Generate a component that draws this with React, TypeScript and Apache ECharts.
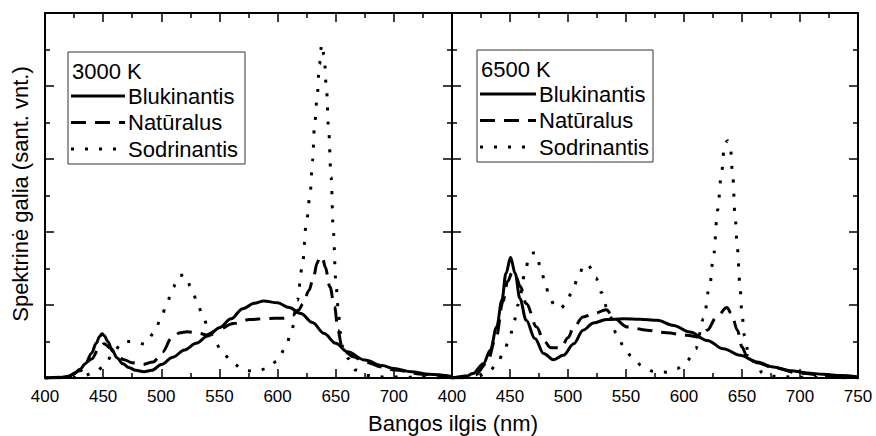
import React, { useEffect, useRef } from "react";
import * as echarts from "echarts";

const FONT = '"Liberation Sans", Arial, Helvetica, sans-serif';

// x tick labels / axis ranges
const xMin = 400;
const xMax = 750;
const xStep = 50;
const yMin = 0;
const yMax = 10;
const yStep = 2;

const panelTitles = ["3000 K", "6500 K"];
const seriesNames = ["Blukinantis", "Natūralus", "Sodrinantis"];

// ---- 3000 K ----
const blu3000Wl = [400, 410, 415, 420, 425, 430, 435, 440, 444, 447, 449, 451, 454, 458, 462, 467, 472, 478, 485, 492, 500, 510, 520, 530, 540, 550, 560, 570, 580, 588, 600, 610, 620, 630, 640, 650, 660, 675, 690, 700, 715, 730, 750];
const blu3000Val = [0, 0.01, 0.02, 0.05, 0.12, 0.24, 0.4, 0.68, 0.95, 1.14, 1.21, 1.16, 1.0, 0.74, 0.55, 0.39, 0.29, 0.21, 0.17, 0.21, 0.37, 0.57, 0.77, 0.95, 1.15, 1.38, 1.62, 1.9, 2.05, 2.11, 2.06, 1.93, 1.77, 1.52, 1.22, 0.95, 0.72, 0.49, 0.34, 0.26, 0.17, 0.1, 0.04];

const nat3000Wl = [400, 415, 420, 430, 440, 446, 451, 456, 462, 468, 475, 484, 493, 501, 509, 516, 522, 533, 539, 548, 562, 576, 591, 605, 613, 618, 622, 627, 631, 634, 636.5, 639, 641, 645, 649, 652, 655, 659, 665, 675, 690, 700, 725, 750];
const nat3000Val = [0, 0.02, 0.05, 0.2, 0.52, 0.78, 0.94, 0.82, 0.62, 0.5, 0.42, 0.37, 0.44, 0.71, 1.1, 1.24, 1.27, 1.22, 1.18, 1.31, 1.49, 1.6, 1.63, 1.64, 1.72, 1.86, 2.04, 2.4, 2.78, 3.15, 3.33, 3.25, 3.04, 2.5, 1.95, 1.31, 0.9, 0.7, 0.58, 0.44, 0.3, 0.22, 0.1, 0.03];

const sod3000Wl = [400, 425, 433, 444, 452, 459, 467, 476, 486, 494, 500, 505, 510, 515, 520, 526, 531, 536, 541, 546, 553, 562, 571, 581, 591, 600, 607, 612, 617, 621, 625, 628, 630, 632, 634, 636, 638, 640, 642, 644, 646, 648, 650, 652, 654, 656, 661, 667, 677, 690, 750];
const sod3000Val = [0, 0.01, 0.06, 0.17, 0.39, 0.72, 1.0, 1.0, 0.93, 1.24, 1.66, 2.07, 2.48, 2.8, 2.83, 2.47, 2.06, 1.65, 1.33, 0.99, 0.67, 0.39, 0.21, 0.18, 0.26, 0.47, 0.85, 1.29, 2.13, 3.0, 4.3, 5.05, 5.95, 7.0, 7.7, 8.6, 9.15, 8.85, 7.95, 6.75, 5.5, 4.0, 2.7, 1.95, 1.25, 0.85, 0.53, 0.22, 0.07, 0.03, 0];

// ---- 6500 K ----
const blu6500Wl = [400, 410, 418, 427, 433, 438.5, 443, 446.5, 450.5, 454.5, 458.5, 464, 471.5, 479, 487.5, 496, 505, 513, 522, 533, 548, 562, 577, 591, 605, 620, 634, 648.5, 663, 677, 692, 706, 720, 735, 750];
const blu6500Val = [0.01, 0.01, 0.12, 0.39, 0.76, 1.4, 2.13, 2.86, 3.3, 2.86, 2.18, 1.58, 1.08, 0.67, 0.5, 0.62, 0.94, 1.31, 1.51, 1.6, 1.62, 1.61, 1.58, 1.44, 1.26, 1.03, 0.8, 0.62, 0.44, 0.3, 0.2, 0.14, 0.1, 0.07, 0.03];

const nat6500Wl = [400, 420, 430, 438, 444, 448, 452, 455, 459, 464, 473, 479, 485, 494, 500, 505, 513, 522, 533, 540, 551, 568, 585, 602, 614, 620, 628, 637, 641, 646, 650, 654, 663, 677, 700, 725, 750];
const nat6500Val = [0, 0.08, 0.4, 1.1, 2.1, 2.65, 2.9, 2.78, 2.5, 2.04, 1.4, 1.03, 0.83, 0.83, 1.1, 1.4, 1.67, 1.76, 1.87, 1.62, 1.4, 1.31, 1.24, 1.17, 1.12, 1.31, 1.67, 1.93, 1.76, 1.31, 0.85, 0.62, 0.42, 0.28, 0.13, 0.06, 0.02];

const sod6500Wl = [400, 420, 431, 439, 445, 450, 453.5, 457, 463, 466, 469, 472, 476.5, 480, 484, 489, 493, 498, 504, 509, 514, 517, 524, 529, 533.5, 542, 548, 555, 564, 574, 585, 594, 602.5, 610, 617, 622, 625.5, 629, 632, 635, 637.5, 640, 642, 644, 646, 648, 650, 652, 655.5, 661, 668.5, 677, 700, 750];
const sod6500Val = [0, 0.02, 0.15, 0.38, 0.76, 1.14, 1.56, 2.01, 2.86, 3.27, 3.42, 3.44, 3.04, 2.63, 2.22, 1.95, 1.9, 2.01, 2.4, 2.8, 3.11, 3.11, 2.74, 2.34, 1.93, 1.22, 0.87, 0.58, 0.33, 0.18, 0.16, 0.26, 0.47, 0.8, 1.63, 2.5, 3.36, 4.6, 5.5, 6.4, 6.5, 6.3, 5.55, 4.45, 3.55, 2.65, 1.75, 1.17, 0.71, 0.41, 0.12, 0.05, 0.02, 0];

const pairs = (wl: number[], v: number[]) => wl.map((w, i) => [w, v[i]]);

const SOLID: any = "solid";
const DASHED: any = [15, 9];
const DOTTED: any = [3, 11];
const styles = [SOLID, DASHED, DOTTED];

const grids = [
  { left: 45, top: 13, width: 407, height: 365 },
  { left: 452, top: 13, width: 406, height: 365 },
];

const legendBoxes = [
  { x: 68, y: 52, w: 177, h: 112, lx: 71, lineW: 54 },
  { x: 477, y: 50, w: 176, h: 112, lx: 480, lineW: 56 },
];

export default function App() {
  const ref = useRef<HTMLDivElement>(null);

  useEffect(() => {
    document.body.style.margin = "0";
    if (!ref.current) return;
    const chart = echarts.init(ref.current, null, { renderer: "svg" });

    const axisCommon = {
      type: "value" as const,
      axisLine: { show: true, onZero: false, lineStyle: { color: "#000", width: 2 } },
      axisTick: { show: true, inside: true, length: 9, lineStyle: { color: "#000", width: 1.5 } },
      minorTick: { show: true, splitNumber: 2, length: 5, lineStyle: { color: "#000", width: 1.5 } },
      splitLine: { show: false },
      minorSplitLine: { show: false },
    };

    const xAxes: any[] = [];
    const yAxes: any[] = [];
    [0, 1].forEach((g) => {
      xAxes.push({
        ...axisCommon,
        gridIndex: g,
        position: "bottom",
        min: xMin,
        max: xMax,
        interval: xStep,
        axisLabel: {
          show: true,
          color: "#000",
          fontSize: 17,
          fontFamily: FONT,
          margin: 10,
          formatter: (v: number) => (g === 0 && v === xMax ? "" : String(v)),
        },
      });
      xAxes.push({
        ...axisCommon,
        gridIndex: g,
        position: "top",
        min: xMin,
        max: xMax,
        interval: xStep,
        axisLabel: { show: false },
      });
      yAxes.push({
        ...axisCommon,
        gridIndex: g,
        position: "left",
        min: yMin,
        max: yMax,
        interval: yStep,
        axisLabel: { show: false },
      });
      yAxes.push({
        ...axisCommon,
        gridIndex: g,
        position: "right",
        min: yMin,
        max: yMax,
        interval: yStep,
        axisLabel: { show: false },
      });
    });

    const panelData = [
      [pairs(blu3000Wl, blu3000Val), pairs(nat3000Wl, nat3000Val), pairs(sod3000Wl, sod3000Val)],
      [pairs(blu6500Wl, blu6500Val), pairs(nat6500Wl, nat6500Val), pairs(sod6500Wl, sod6500Val)],
    ];

    const series: any[] = [];
    panelData.forEach((list, g) => {
      list.forEach((data, k) => {
        series.push({
          type: "line",
          name: `${seriesNames[k]} ${panelTitles[g]}`,
          xAxisIndex: g * 2,
          yAxisIndex: g * 2,
          data,
          showSymbol: false,
          symbol: "none",
          smooth: 0.35,
          smoothMonotone: "x",
          lineStyle: {
            color: "#000",
            width: k === 2 ? 3 : 3,
            type: styles[k],
            cap: "butt",
          },
          z: 3,
        });
      });
    });

    const graphics: any[] = [];
    legendBoxes.forEach((b, g) => {
      graphics.push({
        type: "rect",
        shape: { x: b.x, y: b.y, width: b.w, height: b.h },
        style: { fill: "#fff", stroke: "#333", lineWidth: 1 },
        z: 10,
      });
      graphics.push({
        type: "text",
        x: b.x + 4,
        y: b.y + 19,
        style: { text: panelTitles[g], fontSize: 22, fontFamily: FONT, fill: "#000", align: "left", verticalAlign: "middle" },
        z: 11,
      });
      seriesNames.forEach((name, k) => {
        const cy = b.y + 44 + k * 26.5;
        graphics.push({
          type: "line",
          shape: { x1: b.lx, y1: cy, x2: b.lx + b.lineW, y2: cy },
          style: { stroke: "#000", lineWidth: 3, lineDash: k === 0 ? null : styles[k], lineCap: "butt" },
          z: 11,
        });
        graphics.push({
          type: "text",
          x: b.lx + b.lineW + 3,
          y: cy,
          style: { text: name, fontSize: 22, fontFamily: FONT, fill: "#000", align: "left", verticalAlign: "middle" },
          z: 11,
        });
      });
    });
    graphics.push({
      type: "text",
      x: 453,
      y: 423,
      style: { text: "Bangos ilgis (nm)", fontSize: 22, fontFamily: FONT, fill: "#000", align: "center", verticalAlign: "middle" },
    });
    graphics.push({
      type: "text",
      x: 20,
      y: 194,
      rotation: Math.PI / 2,
      style: { text: "Spektrinė galia (sant. vnt.)", fontSize: 22, fontFamily: FONT, fill: "#000", align: "center", verticalAlign: "middle" },
    });

    chart.setOption({
      animation: false,
      backgroundColor: "#fff",
      textStyle: { fontFamily: FONT, color: "#000" },
      grid: grids,
      xAxis: xAxes,
      yAxis: yAxes,
      series,
      graphic: graphics,
    });

    return () => chart.dispose();
  }, []);

  return <div ref={ref} style={{ width: 876, height: 436 }} />;
}
